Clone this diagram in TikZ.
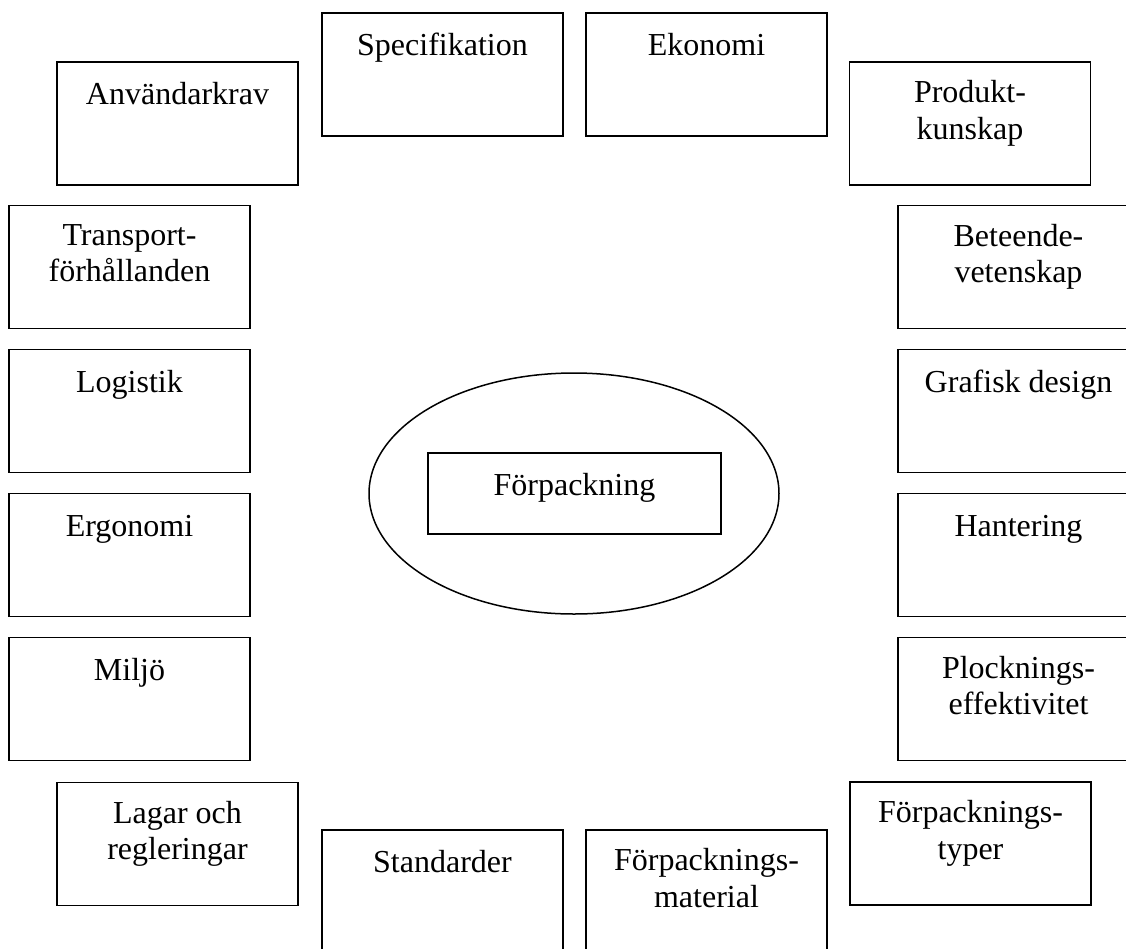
\documentclass[tikz,border=0pt]{standalone}
\usepackage{fontspec}
\setmainfont{Liberation Serif}
\usetikzlibrary{shapes.geometric}
\tikzstyle{block} = [draw, line width=0.75pt, rectangle, inner sep=0pt,
    minimum width=120.5pt, minimum height=61.5pt]
\tikzstyle{core} = [block, minimum width=146.5pt, minimum height=40.5pt]
\tikzstyle{hub} = [draw, line width=0.75pt, ellipse, inner sep=0pt,
    minimum width=205pt, minimum height=120.5pt]
\tikzstyle{blocktext} = [anchor=north, inner sep=0pt, align=center,
    yshift=-9.5pt, font=\fontsize{16}{18.3}\selectfont,
    execute at begin node={\rule{0pt}{12pt}}]

\begin{document}
\begin{tikzpicture}[x=0.5pt, y=-0.5pt, node distance=72pt]
    \clip (0,0) rectangle (1126,949);
	% % % % % % % % % % % % % % % % % % % % % % %
    % Centre
    % % % % % % % % % % % % % % % % % % % % % % %
    \node [hub] (ring) at (574,493.5) {};
    \node [core] (pack) at (574.5,493.5) {};
    \node [blocktext] (pack-t) at (pack.north) {Förpackning};

    % % % % % % % % % % % % % % % % % % % % % % %
    % Top row
    % % % % % % % % % % % % % % % % % % % % % % %
    \node [block] (anv) at (177.5,123.5) {};
    \node [block] (spec) at (442.5,74.5) {};
    \node [block, right of=spec, node distance=132pt] (ekon) {};
    \node [block] (prod) at (970,123.5) {};

    \node [blocktext] (anv-t) at (anv.north) {Användarkrav};
    \node [blocktext] (spec-t) at (spec.north) {Specifikation};
    \node [blocktext] (ekon-t) at (ekon.north) {Ekonomi};
    \node [blocktext] (prod-t) at (prod.north) {Produkt-\\kunskap};

    % % % % % % % % % % % % % % % % % % % % % % %
    % Left column
    % % % % % % % % % % % % % % % % % % % % % % %
    \node [block] (trans) at (129.5,267) {};
    \node [block, below of=trans] (logi) {};
    \node [block, below of=logi] (ergo) {};
    \node [block, below of=ergo] (milj) {};

    \node [blocktext] (trans-t) at (trans.north) {Transport-\\förhållanden};
    \node [blocktext] (logi-t) at (logi.north) {Logistik};
    \node [blocktext] (ergo-t) at (ergo.north) {Ergonomi};
    \node [blocktext] (milj-t) at (milj.north) {Miljö};

    % % % % % % % % % % % % % % % % % % % % % % %
    % Right column
    % % % % % % % % % % % % % % % % % % % % % % %
    \node [block] (bet) at (1018.5,267) {};
    \node [block, below of=bet] (graf) {};
    \node [block, below of=graf] (hant) {};
    \node [block, below of=hant] (plock) {};

    \node [blocktext] (bet-t) at (bet.north) {Beteende-\\vetenskap};
    \node [blocktext] (graf-t) at (graf.north) {Grafisk design};
    \node [blocktext] (hant-t) at (hant.north) {Hantering};
    \node [blocktext] (plock-t) at (plock.north) {Plocknings-\\effektivitet};

    % % % % % % % % % % % % % % % % % % % % % % %
    % Bottom row
    % % % % % % % % % % % % % % % % % % % % % % %
    \node [block] (lagar) at (177.5,844) {};
    \node [block] (stand) at (442.5,891.5) {};
    \node [block, right of=stand, node distance=132pt] (fmat) {};
    \node [block] (ftyp) at (970.5,843.5) {};

    \node [blocktext] (lagar-t) at (lagar.north) {Lagar och\\regleringar};
    \node [blocktext] (stand-t) at (stand.north) {Standarder};
    \node [blocktext] (fmat-t) at (fmat.north) {Förpacknings-\\material};
    \node [blocktext] (ftyp-t) at (ftyp.north) {Förpacknings-\\typer};
\end{tikzpicture}
\end{document}
